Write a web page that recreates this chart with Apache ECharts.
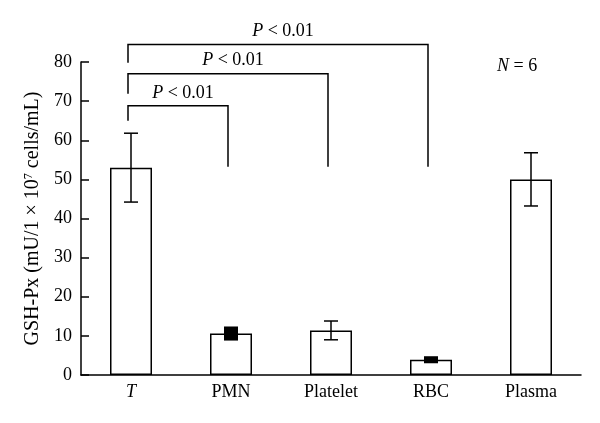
<!DOCTYPE html>
<html><head><meta charset="utf-8">
<script src="https://cdn.jsdelivr.net/npm/echarts@6/dist/echarts.min.js"></script>
<style>html,body{margin:0;padding:0;background:#fff}#c{width:600px;height:423px}</style>
</head><body><div id="c"></div>
<script>
const categories = ['T', 'PMN', 'Platelet', 'RBC', 'Plasma'];
const means = [53.0, 10.6, 11.4, 3.9, 50.0];
const sds = [8.8, 1.8, 2.4, 0.9, 6.8];
const yMin = 0, yMax = 80, yStep = 10;
const cmpFrom = [0, 0, 0];
const cmpTo = [1, 2, 3];
const cmpLevel = [68.8, 77.0, 84.5];
const cmpLeftEnd = [65.0, 71.9, 79.8];
const cmpRightEnd = [53.2, 53.2, 53.2];
const cmpLabel = ['P < 0.01', 'P < 0.01', 'P < 0.01'];
const nLabel = 'N = 6';
const yTitle = ['GSH-Px (mU/1 × 10', '7', ' cells/mL)'];

const FONT = '"Liberation Serif", "Times New Roman", serif';
const FS = 18;
const TFS = 20;
const chart = echarts.init(document.getElementById('c'), null, {renderer: 'canvas'});

const errData = categories.map((c, i) => [i, means[i], sds[i]]);
const cmpData = cmpFrom.map((f, i) => [f, cmpTo[i], cmpLevel[i], cmpLeftEnd[i], cmpRightEnd[i]]);
const italicRich = {i: {fontStyle: 'italic', fontFamily: FONT, fontSize: FS, color: '#000'}, n: {fontFamily: FONT, fontSize: FS, color: '#000'}};

chart.setOption({
  animation: false,
  backgroundColor: '#fff',
  grid: {left: 81, right: 19, top: 62, bottom: 48, containLabel: false},
  xAxis: {
    type: 'category', data: categories,
    axisLine: {lineStyle: {color: '#000', width: 1.5}},
    axisTick: {show: false},
    axisLabel: {
      interval: 0, margin: 8, color: '#000', fontFamily: FONT, fontSize: FS,
      formatter: v => v === 'T' ? '{i|T}' : '{n|' + v + '}',
      rich: italicRich
    }
  },
  yAxis: {
    type: 'value', min: yMin, max: yMax, interval: yStep,
    name: '{n|' + yTitle[0] + '}{s|' + yTitle[1] + '}{n|' + yTitle[2] + '}',
    nameLocation: 'middle', nameGap: 37, nameRotate: 90,
    nameTextStyle: {
      fontFamily: FONT, fontSize: TFS, color: '#000',
      rich: {
        n: {fontFamily: FONT, fontSize: TFS, color: '#000'},
        s: {fontFamily: FONT, fontSize: 12, color: '#000', verticalAlign: 'top', padding: [0, 0, 9, 0]}
      }
    },
    axisLine: {show: true, lineStyle: {color: '#000', width: 1.5}},
    axisTick: {show: true, inside: true, length: 8, lineStyle: {color: '#000', width: 1.5}},
    axisLabel: {margin: 9, color: '#000', fontFamily: FONT, fontSize: FS},
    splitLine: {show: false}
  },
  graphic: [{
    type: 'text', left: 497, top: 57,
    style: {text: nLabel.replace(/^N/, '{i|N}').replace(/ = (.*)$/, '{n| = $1}'), rich: italicRich, fontFamily: FONT, fontSize: FS, fill: '#000'}
  }],
  series: [
    {
      type: 'bar', data: means, barWidth: 42,
      itemStyle: {color: '#fff', borderColor: '#000', borderWidth: 1.5},
      z: 2
    },
    {
      type: 'custom', data: errData, encode: {x: 0, y: 1}, z: 5,
      renderItem: (params, api) => {
        const x = api.value(0), m = api.value(1), e = api.value(2);
        const hi = api.coord([x, m + e]);
        const lo = api.coord([x, m - e]);
        const w = 7;
        if (lo[1] - hi[1] < 16) {
          return {type: 'rect', shape: {x: hi[0] - w, y: hi[1], width: 2 * w, height: lo[1] - hi[1]}, style: {fill: '#000'}};
        }
        const st = {stroke: '#000', lineWidth: 1.5};
        return {type: 'group', children: [
          {type: 'line', shape: {x1: hi[0], y1: hi[1], x2: lo[0], y2: lo[1]}, style: st},
          {type: 'line', shape: {x1: hi[0] - w, y1: hi[1], x2: hi[0] + w, y2: hi[1]}, style: st},
          {type: 'line', shape: {x1: lo[0] - w, y1: lo[1], x2: lo[0] + w, y2: lo[1]}, style: st}
        ]};
      }
    },
    {
      type: 'custom', data: cmpData, encode: {x: 0, y: 2}, z: 5, clip: false,
      renderItem: (params, api) => {
        const i = params.dataIndex;
        const f = api.value(0), t = api.value(1);
        const a = api.coord([f, api.value(2)]);
        const b = api.coord([t, api.value(2)]);
        const la = api.coord([f, api.value(3)]);
        const rb = api.coord([t, api.value(4)]);
        const off = -3;
        return {type: 'group', children: [
          {type: 'polyline', shape: {points: [[la[0] + off, la[1]], [a[0] + off, a[1]], [b[0] + off, b[1]], [rb[0] + off, rb[1]]]},
            style: {stroke: '#000', lineWidth: 1.5, fill: null}},
          {type: 'text', x: (a[0] + b[0]) / 2 + 2, y: a[1] - 13,
            style: {text: cmpLabel[i].replace(/^P/, '{i|P}').replace(/ < (.*)$/, '{n| < $1}'), rich: italicRich,
              fontFamily: FONT, fontSize: FS, fill: '#000', align: 'center', verticalAlign: 'middle'}}
        ]};
      }
    }
  ]
});
</script>
</body></html>
